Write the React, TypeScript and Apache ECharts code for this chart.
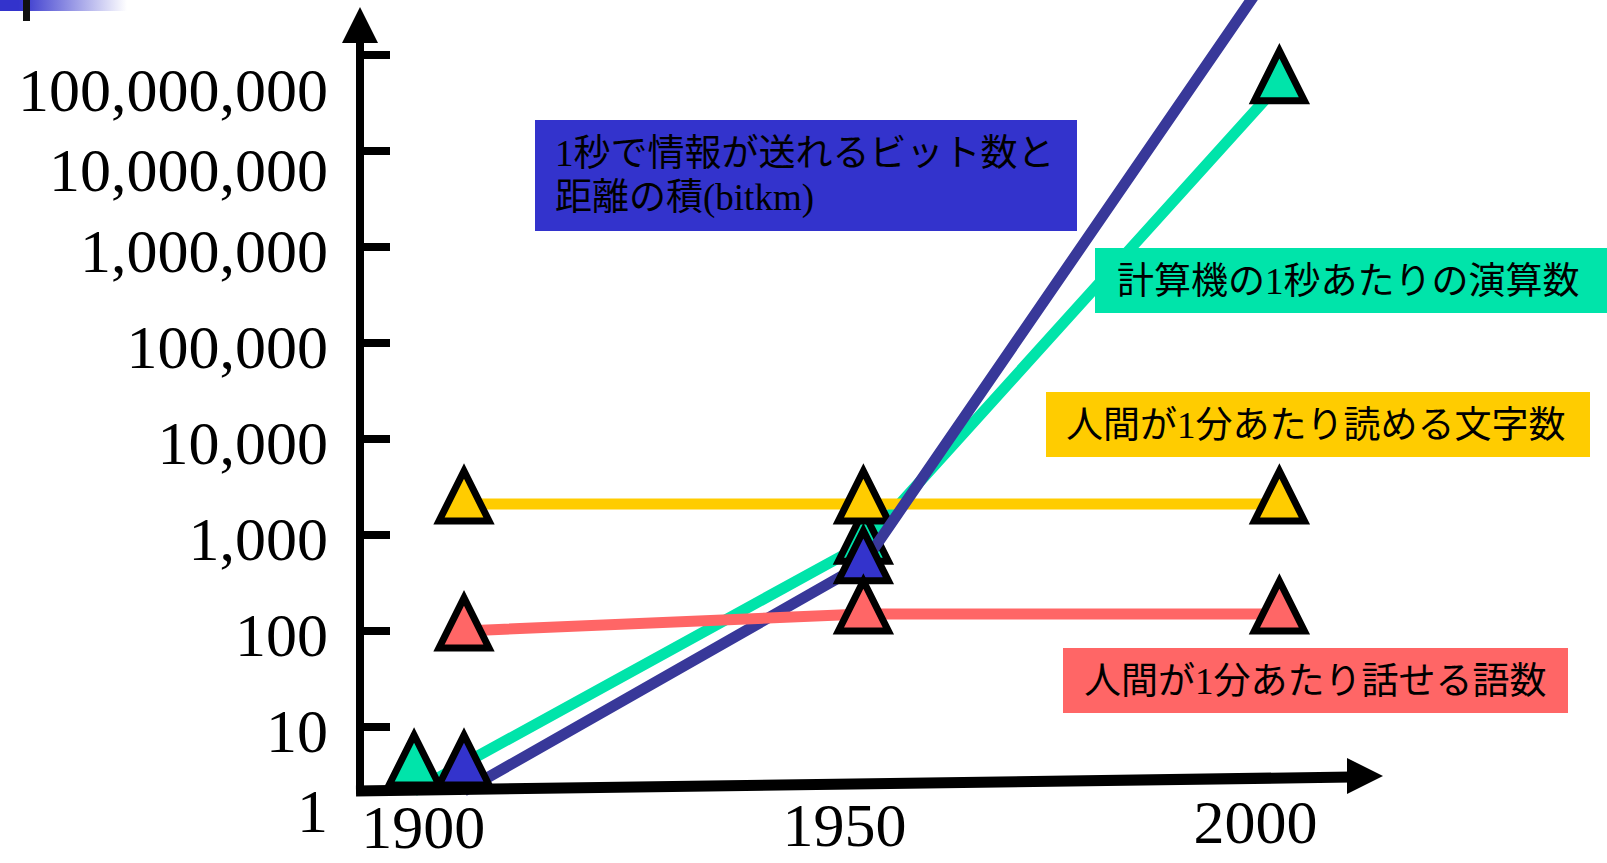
import React, { useEffect, useRef } from 'react';
import * as echarts from 'echarts';

// ---------- data ----------
const YEAR_LABELS = [1900, 1950, 2000];
const Y_TICKS = [1, 10, 100, 1000, 10000, 100000, 1000000, 10000000, 100000000];

const NAME_COMPUTER = '計算機の1秒あたりの演算数';
const NAME_READ = '人間が1分あたり読める文字数';
const NAME_BITKM = '1秒で情報が送れるビット数と\n距離の積(bitkm)';
const NAME_SPEAK = '人間が1分あたり話せる語数';

const COMPUTER_X = [1896, 1950, 2000];
const COMPUTER_Y = [1, 800, 50000000];

const READ_X = [1902, 1950, 2000];
const READ_Y = [2100, 2100, 2100];

const BITKM_X = [1902, 1950, 2000];
const BITKM_Y = [1, 500, 1000000000];

const SPEAK_X = [1902, 1950, 2000];
const SPEAK_Y = [100, 150, 150];

// ---------- axis bounds (slide baseline is labelled "1") ----------
const Y_FLOOR = 2.15;
const Y_TOP = 1.33e8;
const X_MIN = 1889.5;
const X_MAX = 2010;

const SERIF = "'Liberation Serif', 'Times New Roman', serif";
const MIXED = "'Liberation Serif', 'Noto Sans CJK JP', sans-serif";

const COLORS = {
  green: '#00E4AA',
  yellow: '#FFCC00',
  blueLine: '#383899',
  blueFill: '#3333CC',
  red: '#FF6666',
};

function makeSeries(name: string, xs: number[], ys: number[], lineColor: string, fillColor: string, z: number) {
  return {
    type: 'line',
    name,
    z,
    clip: false,
    silent: true,
    showAllSymbol: true,
    symbol: 'triangle',
    symbolSize: 50,
    data: xs.map((x, i) => {
      const onFloor = ys[i] <= 1;
      return {
        value: [x, onFloor ? Y_FLOOR : ys[i]],
        symbolOffset: [0, onFloor ? -31 : -8],
      };
    }),
    itemStyle: {
      color: fillColor,
      borderColor: '#000',
      borderWidth: 7,
      borderJoin: 'miter',
      borderMiterLimit: 10,
    },
    lineStyle: { color: lineColor, width: 11, cap: 'butt' },
    emphasis: { disabled: true },
  };
}

function labelBox(x: number, y: number, w: number, h: number, fill: string, text: string, tx: number, ty: number) {
  return {
    type: 'group',
    z: 20,
    children: [
      { type: 'rect', z: 20, shape: { x, y, width: w, height: h }, style: { fill } },
      {
        type: 'text',
        z: 21,
        x: tx,
        y: ty,
        style: {
          text,
          fill: '#000',
          fontSize: 37,
          fontFamily: MIXED,
          lineHeight: 44,
          align: 'left',
          verticalAlign: 'middle',
          textAlign: 'left',
          textVerticalAlign: 'middle',
        },
      },
    ],
  };
}

const yRich = {
  n: { fontFamily: SERIF, fontSize: 62, color: '#000', padding: [8, 0, 0, 0] },
  f: { fontFamily: SERIF, fontSize: 62, color: '#000', padding: [40, 0, 0, 0] },
  m: { fontFamily: SERIF, fontSize: 62, color: '#000', padding: [38, 0, 0, 0] },
  t: { fontFamily: SERIF, fontSize: 62, color: '#000', padding: [70, 0, 0, 0] },
};

const xRich = {
  a: { fontFamily: SERIF, fontSize: 62, lineHeight: 48, color: '#000', padding: [23, 48, 0, 0] },
  b: { fontFamily: SERIF, fontSize: 62, color: '#000', padding: [3, 38, 0, 0] },
  c: { fontFamily: SERIF, fontSize: 62, color: '#000', padding: [0, 48, 0, 0] },
};

function buildOption() {
  return {
    animation: false,
    backgroundColor: '#fff',
    grid: {
      left: 360,
      right: 1607 - (360 + 1002.6),
      top: 43,
      bottom: 863 - 791,
      containLabel: false,
      outerBoundsMode: 'none',
    },
    xAxis: {
      type: 'value',
      min: X_MIN,
      max: X_MAX,
      axisLine: { show: false },
      axisTick: { show: false },
      splitLine: { show: false },
      axisLabel: {
        show: true,
        customValues: YEAR_LABELS,
        margin: 0,
        fontFamily: SERIF,
        fontSize: 62,
        color: '#000',
        formatter: (v: number) => {
          const i = YEAR_LABELS.indexOf(Math.round(v));
          const key = ['a', 'b', 'c'][i] || 'b';
          return `{${key}|${Math.round(v)}}`;
        },
        rich: xRich,
      },
    },
    yAxis: {
      type: 'log',
      logBase: 10,
      min: Y_FLOOR,
      max: Y_TOP,
      axisLine: {
        show: true,
        lineStyle: { color: '#000', width: 8 },
        symbol: ['none', 'triangle'],
        symbolSize: [36, 36],
        symbolOffset: [0, 18],
      },
      axisTick: {
        show: true,
        inside: true,
        length: 30,
        lineStyle: { color: '#000', width: 8 },
        customValues: Y_TICKS.slice(1),
      },
      axisLabel: {
        show: true,
        customValues: [Y_FLOOR * 1.0001, ...Y_TICKS.slice(1)],
        margin: 32,
        fontFamily: SERIF,
        fontSize: 62,
        color: '#000',
        formatter: (v: number) => {
          if (v < 5) return `{f|${Y_TICKS[0]}}`;
          const r = Math.round(v);
          const s = r.toLocaleString('en-US');
          const key = r >= 1e8 ? 't' : r >= 1e7 ? 'm' : 'n';
          return `{${key}|${s}}`;
        },
        rich: yRich,
      },
      splitLine: { show: false },
    },
    series: [
      makeSeries(NAME_COMPUTER, COMPUTER_X, COMPUTER_Y, COLORS.green, COLORS.green, 2),
      makeSeries(NAME_READ, READ_X, READ_Y, COLORS.yellow, COLORS.yellow, 3),
      makeSeries(NAME_BITKM, BITKM_X, BITKM_Y, COLORS.blueLine, COLORS.blueFill, 4),
      makeSeries(NAME_SPEAK, SPEAK_X, SPEAK_Y, COLORS.red, COLORS.red, 5),
    ],
    graphic: [
      {
        type: 'rect',
        z: 1,
        shape: { x: 0, y: 0, width: 127, height: 11 },
        style: {
          fill: new echarts.graphic.LinearGradient(0, 0, 1, 0, [
            { offset: 0, color: '#3333CC' },
            { offset: 0.15, color: '#3333CC' },
            { offset: 1, color: '#ffffff' },
          ]),
        },
      },
      { type: 'rect', z: 2, shape: { x: 23, y: 0, width: 7, height: 21 }, style: { fill: '#111' } },
      // x axis line (slightly tilted on the slide) and its arrow
      { type: 'line', z: 10, shape: { x1: 356, y1: 791, x2: 1352, y2: 777 }, style: { stroke: '#000', lineWidth: 11 } },
      { type: 'polygon', z: 10, shape: { points: [[1347, 758], [1383, 776], [1347, 794]] }, style: { fill: '#000' } },
      labelBox(535, 120, 542, 111, COLORS.blueFill, NAME_BITKM, 555, 175),
      labelBox(1095, 248, 512, 65, COLORS.green, NAME_COMPUTER, 1117, 281),
      labelBox(1046, 392, 544, 65, COLORS.yellow, NAME_READ, 1066, 425),
      labelBox(1063, 648, 505, 65, COLORS.red, NAME_SPEAK, 1084, 681),
    ],
  };
}

export default function App() {
  const ref = useRef<HTMLDivElement>(null);
  useEffect(() => {
    if (!ref.current) return;
    const chart = echarts.init(ref.current, undefined, { renderer: 'svg', width: 1607, height: 863 });
    chart.setOption(buildOption() as any);
    return () => chart.dispose();
  }, []);
  return (
    <div
      ref={ref}
      style={{ position: 'absolute', left: 0, top: 0, width: 1607, height: 863, background: '#fff' }}
    />
  );
}
